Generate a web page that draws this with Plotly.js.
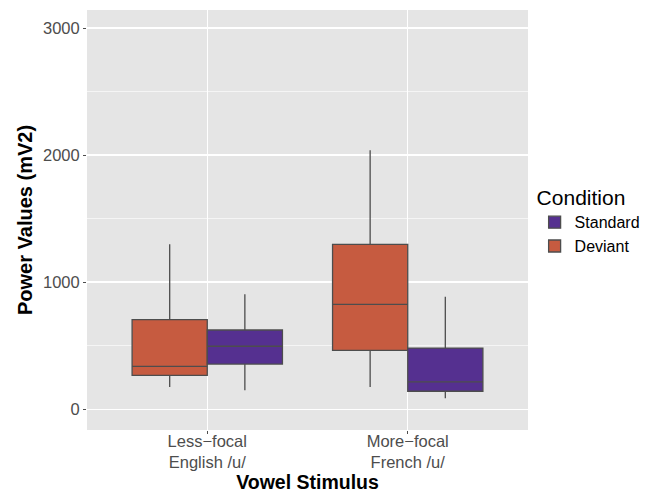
<!DOCTYPE html>
<html><head><meta charset="utf-8">
<script src="https://cdn.plot.ly/plotly-3.0.1.min.js"></script>
<style>body{margin:0;background:#fff}</style>
</head><body>
<div id="chart" style="width:649px;height:494px"></div>
<script>
const categories = ['Less−focal<br>English /u/', 'More−focal<br>French /u/'];
const deviantLower = [175, 175];
const deviantQ1 = [267, 464];
const deviantMedian = [338, 826];
const deviantQ3 = [705, 1298];
const deviantUpper = [1298, 2038];
const standardLower = [149, 86];
const standardQ1 = [356, 142];
const standardMedian = [496, 215];
const standardQ3 = [624, 482];
const standardUpper = [905, 886];
const yTicks = [0, 1000, 2000, 3000];

function boxTrace(name, color, lo, q1, med, q3, up) {
  return {
    type: 'box', name: name, x: categories,
    lowerfence: lo, q1: q1, median: med, q3: q3, upperfence: up,
    fillcolor: color, line: {color: '#4d4d4d', width: 1.3},
    whiskerwidth: 0, boxpoints: false, hoverinfo: 'none'
  };
}
const data = [
  boxTrace('Deviant', '#C65B40', deviantLower, deviantQ1, deviantMedian, deviantQ3, deviantUpper),
  boxTrace('Standard', '#553090', standardLower, standardQ1, standardMedian, standardQ3, standardUpper)
];
const layout = {
  width: 649, height: 494,
  margin: {l: 87, r: 121, t: 10, b: 64, autoexpand: false},
  paper_bgcolor: '#fff', plot_bgcolor: '#E5E5E5',
  font: {family: 'Liberation Sans, Arial, sans-serif', size: 16, color: '#4d4d4d'},
  boxmode: 'group', boxgap: 0.25, boxgroupgap: 0,
  xaxis: {
    type: 'category', categoryarray: categories, range: [-0.6, 1.6],
    showgrid: true, gridcolor: '#fff', gridwidth: 1.5,
    ticks: 'outside', ticklen: 3, tickcolor: '#4d4d4d', tickwidth: 1,
    ticklabelstandoff: -7,
    tickfont: {size: 16.5, color: '#4d4d4d'}, zeroline: false,
    title: {text: '<b>Vowel Stimulus</b>', font: {size: 19.5, color: '#000'}, standoff: 4}
  },
  yaxis: {
    range: [-163, 3142], tickvals: yTicks, ticktext: yTicks.map(String),
    showgrid: true, gridcolor: '#fff', gridwidth: 1.5,
    minor: {tickvals: [500, 1500, 2500], showgrid: true, gridcolor: '#fff', gridwidth: 0.6, ticks: ''},
    ticks: 'outside', ticklen: 3, tickcolor: '#4d4d4d', tickwidth: 1,
    tickfont: {size: 16.5, color: '#4d4d4d'}, zeroline: false,
    title: {text: '<b>Power Values (mV2)</b>', font: {size: 20, color: '#000'}, standoff: 4}
  },
  legend: {
    x: 1.015, xref: 'paper', xanchor: 'left', y: 0.6, yanchor: 'top',
    traceorder: 'reversed', tracegroupgap: 0, itemwidth: 30,
    font: {size: 16, color: '#000'}, bgcolor: 'rgba(0,0,0,0)',
    title: {text: 'Condition', font: {size: 21, color: '#000'}}
  },
  showlegend: true
};
Plotly.newPlot('chart', data, layout, {displayModeBar: false, staticPlot: true});
</script>
</body></html>
